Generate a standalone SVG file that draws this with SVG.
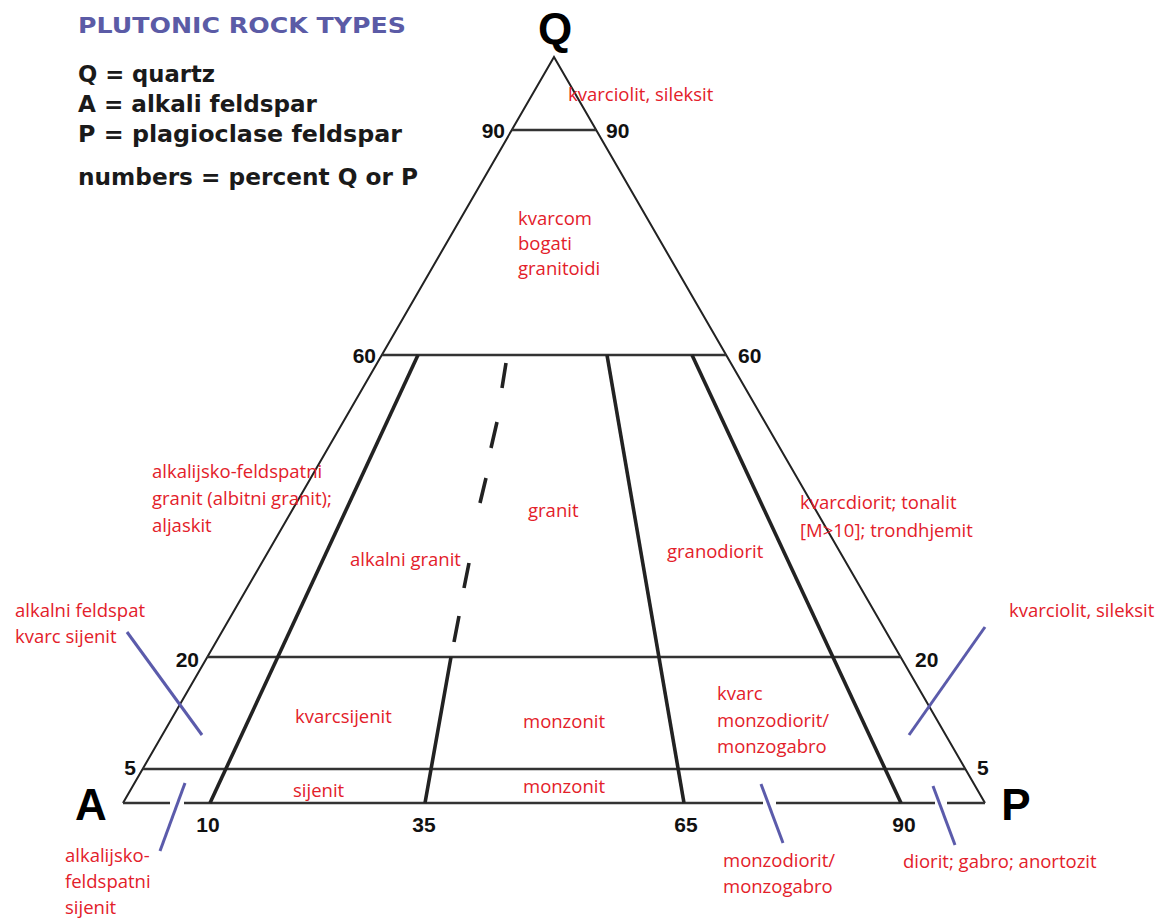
<svg xmlns="http://www.w3.org/2000/svg" width="1159" height="919" viewBox="0 0 1159 919">
<style>
.leg{font-family:"DejaVu Sans",sans-serif;font-weight:bold;font-size:22.5px;fill:#1a1a1a}
.title{font-family:"DejaVu Sans",sans-serif;font-weight:bold;font-size:22px;fill:#5b5ba6}
.vx{font-family:"Liberation Sans",Arial,sans-serif;font-weight:bold;font-size:44px;fill:#000}
.num{font-family:"Liberation Sans",Arial,sans-serif;font-weight:bold;font-size:21px;fill:#111}
.red{font-family:"Open Sans","Noto Sans",sans-serif;font-size:18.5px;fill:#e3202a}
.side{stroke:#222;stroke-width:2;fill:none}
.hl{stroke:#333;stroke-width:2.6;fill:none}
.fl{stroke:#222;stroke-width:3.6;fill:none;stroke-linecap:butt}
.bl{stroke:#5b5bab;stroke-width:3;fill:none}
</style>
<rect width="1159" height="919" fill="#fff"/>
<g id="legend">
<text class="title" x="78" y="33" textLength="328" lengthAdjust="spacingAndGlyphs">PLUTONIC ROCK TYPES</text>
<text class="leg" x="78" y="82" textLength="137" lengthAdjust="spacingAndGlyphs">Q = quartz</text>
<text class="leg" x="78" y="112" textLength="239" lengthAdjust="spacingAndGlyphs">A = alkali feldspar</text>
<text class="leg" x="78" y="142" textLength="324" lengthAdjust="spacingAndGlyphs">P = plagioclase feldspar</text>
<text class="leg" x="78" y="185" textLength="340" lengthAdjust="spacingAndGlyphs">numbers = percent Q or P</text>
</g>
<g id="triangle">
<path class="side" d="M123,803 L554,57 L985,803"/>
<path class="hl" d="M123,803 H170 M184,803 H763 M776,803 H935 M947,803 H985"/>
<line class="hl" x1="512" y1="130" x2="596" y2="130"/>
<line class="hl" x1="382" y1="355" x2="726" y2="355"/>
<line class="hl" x1="207" y1="657" x2="901" y2="657"/>
<line class="hl" x1="143" y1="769" x2="965" y2="769"/>
</g>
<g id="field-lines">
<line class="fl" x1="418" y1="355" x2="210" y2="803"/>
<path class="fl" d="M506,363 L502,388 M497,422 L491,448 M486,478 L480,503 M469,563 L464,588 M459,616 L454,642 M451,657 L425,803"/>
<line class="fl" stroke-width="3.2" x1="607" y1="355" x2="684" y2="803"/>
<line class="fl" x1="692" y1="355" x2="901" y2="803"/>
</g>
<g id="vertex-labels">
<text class="vx" x="555" y="44" text-anchor="middle" font-size="40">Q</text>
<text class="vx" x="91" y="820" text-anchor="middle">A</text>
<text class="vx" x="1016" y="820" text-anchor="middle">P</text>
</g>
<g id="scale-numbers">
<text class="num" x="505" y="138" text-anchor="end">90</text>
<text class="num" x="606" y="138">90</text>
<text class="num" x="376" y="363" text-anchor="end">60</text>
<text class="num" x="738" y="363">60</text>
<text class="num" x="199" y="667" text-anchor="end">20</text>
<text class="num" x="915" y="667">20</text>
<text class="num" x="136" y="775" text-anchor="end">5</text>
<text class="num" x="977" y="775">5</text>
<text class="num" x="208" y="832" text-anchor="middle">10</text>
<text class="num" x="424" y="832" text-anchor="middle">35</text>
<text class="num" x="686" y="832" text-anchor="middle">65</text>
<text class="num" x="904" y="832" text-anchor="middle">90</text>
</g>
<g id="leader-lines">
<line class="bl" x1="127" y1="632" x2="202" y2="735"/>
<line class="bl" x1="185" y1="783" x2="160" y2="851"/>
<line class="bl" x1="761" y1="784" x2="783" y2="843"/>
<line class="bl" x1="933" y1="786" x2="955" y2="845"/>
<line class="bl" x1="985" y1="627" x2="909" y2="735"/>
</g>
<g id="rock-labels">
<text class="red" x="568" y="101">kvarciolit, sileksit</text>
<text class="red" x="518" y="225">kvarcom</text>
<text class="red" x="518" y="250">bogati</text>
<text class="red" x="518" y="275">granitoidi</text>
<text class="red" x="152" y="478">alkalijsko-feldspatni</text>
<text class="red" x="152" y="505">granit (albitni granit);</text>
<text class="red" x="152" y="532">aljaskit</text>
<text class="red" x="350" y="566">alkalni granit</text>
<text class="red" x="528" y="517">granit</text>
<text class="red" x="667" y="558">granodiorit</text>
<text class="red" x="800" y="509">kvarcdiorit; tonalit</text>
<text class="red" x="800" y="537">[M&gt;10]; trondhjemit</text>
<text class="red" x="1009" y="617">kvarciolit, sileksit</text>
<text class="red" x="15" y="617">alkalni feldspat</text>
<text class="red" x="15" y="643">kvarc sijenit</text>
<text class="red" x="295" y="723">kvarcsijenit</text>
<text class="red" x="523" y="728">monzonit</text>
<text class="red" x="717" y="700">kvarc</text>
<text class="red" x="717" y="727">monzodiorit/</text>
<text class="red" x="717" y="753">monzogabro</text>
<text class="red" x="293" y="797">sijenit</text>
<text class="red" x="523" y="793">monzonit</text>
<text class="red" x="65" y="862">alkalijsko-</text>
<text class="red" x="65" y="888">feldspatni</text>
<text class="red" x="65" y="914">sijenit</text>
<text class="red" x="723" y="867">monzodiorit/</text>
<text class="red" x="723" y="893">monzogabro</text>
<text class="red" x="903" y="868">diorit; gabro; anortozit</text>
</g>
</svg>
